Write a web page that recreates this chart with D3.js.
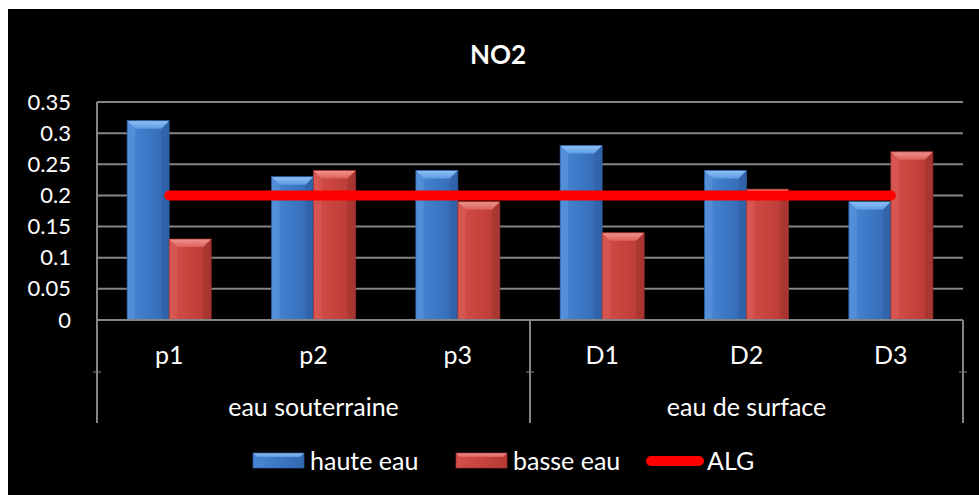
<!DOCTYPE html>
<html>
<head>
<meta charset="utf-8">
<script src="https://cdn.jsdelivr.net/npm/d3@7"></script>
<style>
  html, body { margin: 0; padding: 0; background: #ffffff; }
  svg { display: block; }
  text { font-family: Lato, "Noto Sans", sans-serif; fill: #ffffff; }
</style>
</head>
<body>
<svg id="chart" width="979" height="495"></svg>
<script>
// Sampling sites, their groups, and NO2 concentrations
const categories = ["p1", "p2", "p3", "D1", "D2", "D3"];
const groups = [
  { name: "eau souterraine", from: "p1", to: "p3" },
  { name: "eau de surface", from: "D1", to: "D3" }
];
const seriesNames = ["haute eau", "basse eau"];
const hauteEau = [0.32, 0.23, 0.24, 0.28, 0.24, 0.19];
const basseEau = [0.13, 0.24, 0.19, 0.14, 0.21, 0.27];
const alg = [0.2, 0.2, 0.2, 0.2, 0.2, 0.2];
const yTicks = [0, 0.05, 0.1, 0.15, 0.2, 0.25, 0.3, 0.35];
const title = "NO2";

const svg = d3.select("#chart");
const W = 979, H = 495;
const plot = { left: 97, right: 963, top: 102, bottom: 320 };
const labelSize = "25px";

// Panel background
svg.append("rect").attr("x", 8).attr("y", 9).attr("width", W - 8).attr("height", H - 9).attr("fill", "#000");

const defs = svg.append("defs");
function grad(id, stops, vertical) {
  const g = defs.append("linearGradient").attr("id", id)
    .attr("x1", 0).attr("y1", 0).attr("x2", vertical ? 0 : 1).attr("y2", vertical ? 1 : 0);
  stops.forEach(([o, c]) => g.append("stop").attr("offset", o).attr("stop-color", c));
}
const palette = {
  "haute eau": { body: "blueBody", top: "blueTop", light: "#6aa2e6", dark: "#2a5593", edge: "#2c5ea3" },
  "basse eau": { body: "redBody", top: "redTop", light: "#e06a64", dark: "#8f2c29", edge: "#9c302c" }
};
grad("blueBody", [[0, "#4a86d4"], [0.5, "#3d78c6"], [1, "#3267b0"]], false);
grad("blueTop", [[0, "#8fc3f7"], [1, "#5d9ae2"]], true);
grad("redBody", [[0, "#d24e49"], [0.5, "#c8433e"], [1, "#b43a36"]], false);
grad("redTop", [[0, "#f39590"], [1, "#db605a"]], true);

const y = d3.scaleLinear().domain([0, 0.35]).range([plot.bottom, plot.top]);
const x0 = d3.scaleBand().domain(categories).range([plot.left, plot.right]).padding(0);
const x1 = d3.scaleBand().domain(seriesNames).range([0, x0.bandwidth()]).paddingInner(0).paddingOuter(0.718);

// Horizontal gridlines
const gridColor = "#858585";
svg.append("g").selectAll("line").data(yTicks).join("line")
  .attr("x1", plot.left).attr("x2", plot.right)
  .attr("y1", d => y(d)).attr("y2", d => y(d))
  .attr("stroke", gridColor).attr("stroke-width", 2);

// Value axis
const yAxis = svg.append("g").attr("transform", `translate(${plot.left},0)`)
  .call(d3.axisLeft(y).tickValues(yTicks).tickSize(0).tickPadding(26).tickFormat(d => String(+d.toFixed(2))));
yAxis.select(".domain").remove();
yAxis.selectAll("text").style("font-size", "22px").style("font-family", "Lato, 'Noto Sans', sans-serif").attr("fill", "#fff");

// Bars with bevelled faces
const data = categories.map((c, i) => ({ cat: c, values: [
  { key: "haute eau", v: hauteEau[i] }, { key: "basse eau", v: basseEau[i] }
] }));
const barGroups = svg.append("g").selectAll("g").data(data).join("g")
  .attr("transform", d => `translate(${x0(d.cat)},0)`);
barGroups.selectAll("g").data(d => d.values).join("g").each(function (d) {
  const g = d3.select(this);
  const bx = x1(d.key), bw = x1.bandwidth();
  const by = y(d.v), bh = y(0) - y(d.v);
  const b = Math.min(8, bh / 2);
  const p = palette[d.key];
  g.append("rect").attr("x", bx).attr("y", by).attr("width", bw).attr("height", bh).attr("fill", `url(#${p.body})`);
  g.append("polygon").attr("points", [[bx, by], [bx + b, by + b], [bx + b, by + bh - 2], [bx, by + bh]].join(" "))
    .attr("fill", p.light).attr("opacity", 0.35);
  g.append("polygon").attr("points", [[bx + bw, by], [bx + bw - b, by + b], [bx + bw - b, by + bh - 2], [bx + bw, by + bh]].join(" "))
    .attr("fill", p.dark).attr("opacity", 0.35);
  g.append("polygon").attr("points", [[bx, by], [bx + bw, by], [bx + bw - b, by + b], [bx + b, by + b]].join(" "))
    .attr("fill", `url(#${p.top})`);
  g.append("rect").attr("x", bx).attr("y", by).attr("width", bw).attr("height", bh)
    .attr("fill", "none").attr("stroke", p.edge).attr("stroke-width", 1).attr("opacity", 0.7);
});

// Threshold line (ALG)
const line = d3.line().x((d, i) => x0(categories[i]) + x0.bandwidth() / 2).y(d => y(d));
svg.append("path").datum(alg).attr("d", line)
  .attr("fill", "none").attr("stroke", "#ff0000").attr("stroke-width", 10).attr("stroke-linecap", "round");

// Category axis with grouped labels
const axisBottom = 423;
svg.append("line").attr("x1", plot.left).attr("x2", plot.right).attr("y1", plot.bottom).attr("y2", plot.bottom)
  .attr("stroke", gridColor).attr("stroke-width", 2);
svg.append("line").attr("x1", plot.left).attr("x2", plot.left).attr("y1", plot.top).attr("y2", axisBottom)
  .attr("stroke", gridColor).attr("stroke-width", 2);
const dividers = [x0(groups[0].to) + x0.bandwidth(), plot.right];
svg.append("g").selectAll("line").data(dividers).join("line")
  .attr("x1", d => d).attr("x2", d => d).attr("y1", plot.bottom).attr("y2", axisBottom)
  .attr("stroke", gridColor).attr("stroke-width", 2);
svg.append("g").selectAll("line").data([plot.left, ...dividers]).join("line")
  .attr("x1", d => d - 4).attr("x2", d => d + 4).attr("y1", 372).attr("y2", 372)
  .attr("stroke", gridColor).attr("stroke-width", 1);

svg.append("g").selectAll("text").data(categories).join("text")
  .attr("x", d => x0(d) + x0.bandwidth() / 2).attr("y", 364)
  .attr("text-anchor", "middle").style("font-size", labelSize).text(d => d);
svg.append("g").selectAll("text").data(groups).join("text")
  .attr("x", d => (x0(d.from) + x0(d.to) + x0.bandwidth()) / 2).attr("y", 416)
  .attr("text-anchor", "middle").style("font-size", labelSize).text(d => d.name);

// Title
svg.append("text").attr("x", 498).attr("y", 64).attr("text-anchor", "middle")
  .style("font-size", "26px").style("font-weight", "bold").text(title);

// Legend
const legendY = 461;
const legendItems = [
  { label: "haute eau", type: "bar", key: "haute eau", x: 253 },
  { label: "basse eau", type: "bar", key: "basse eau", x: 456 },
  { label: "ALG", type: "line", x: 646 }
];
const lg = svg.append("g");
legendItems.forEach(it => {
  const g = lg.append("g");
  if (it.type === "bar") {
    const p = palette[it.key];
    const sx = it.x, sy = legendY - 8, sw = 51, sh = 15, b = 4;
    g.append("rect").attr("x", sx).attr("y", sy).attr("width", sw).attr("height", sh).attr("fill", `url(#${p.body})`);
    g.append("polygon").attr("points", [[sx, sy], [sx + sw, sy], [sx + sw - b, sy + b], [sx + b, sy + b]].join(" "))
      .attr("fill", `url(#${p.top})`);
    g.append("rect").attr("x", sx).attr("y", sy).attr("width", sw).attr("height", sh)
      .attr("fill", "none").attr("stroke", p.edge).attr("opacity", 0.7);
    g.append("text").attr("x", sx + sw + 6).attr("y", legendY + 9).style("font-size", labelSize).text(it.label);
  } else {
    g.append("line").attr("x1", it.x + 5).attr("x2", it.x + 53).attr("y1", legendY).attr("y2", legendY)
      .attr("stroke", "#ff0000").attr("stroke-width", 10).attr("stroke-linecap", "round");
    g.append("text").attr("x", it.x + 61).attr("y", legendY + 9).style("font-size", labelSize).text(it.label);
  }
});
</script>
</body>
</html>
